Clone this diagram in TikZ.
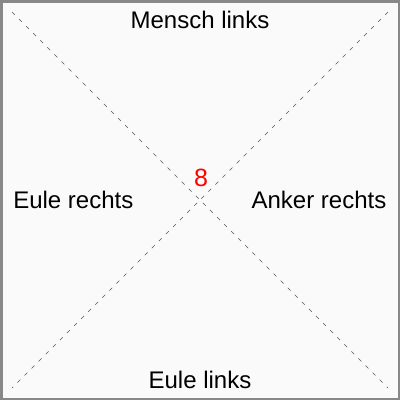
\documentclass[tikz,border=0pt]{standalone}
\usepackage{fontspec}
\setmainfont{Liberation Sans}
\usepackage{xcolor}
\usetikzlibrary{positioning}
\definecolor{framegray}{HTML}{888888}
\definecolor{paper}{HTML}{FAFAFA}
\definecolor{dashgray}{HTML}{555555}

\begin{document}
\begin{tikzpicture}[x=1pt, y=-1pt, every node/.style={font=\fontsize{24}{28}\selectfont, inner sep=0pt, anchor=base}]
% Background and frame
\useasboundingbox (0,0) rectangle (400,400);
\fill[paper] (0,0) rectangle (400,400);
\draw[framegray, line width=2.5pt] (1.25,1.25) rectangle (398.75,398.75);

% Define the corners
\coordinate (tl) at (12,12);
\coordinate (tr) at (388,12);
\coordinate (bl) at (12,388);
\coordinate (br) at (388,388);

% Draw the diagonals
\draw[dashgray, line width=0.7pt, dash pattern=on 4pt off 6pt] (tl) -- (br);
\draw[dashgray, line width=0.7pt, dash pattern=on 4pt off 6pt] (tr) -- (bl);

% Define the nodes
\node (top) at (200,28.3) {Mensch links};
\node (left) at (73.3,208.4) {Eule rechts};
\node (right) at (319,208.4) {Anker rechts};
\node (bottom) at (200,388.6) {Eule links};
\node[text=red, font=\fontsize{25}{29}\selectfont] (mid) at (201,186.7) {8};
\end{tikzpicture}
\end{document}
